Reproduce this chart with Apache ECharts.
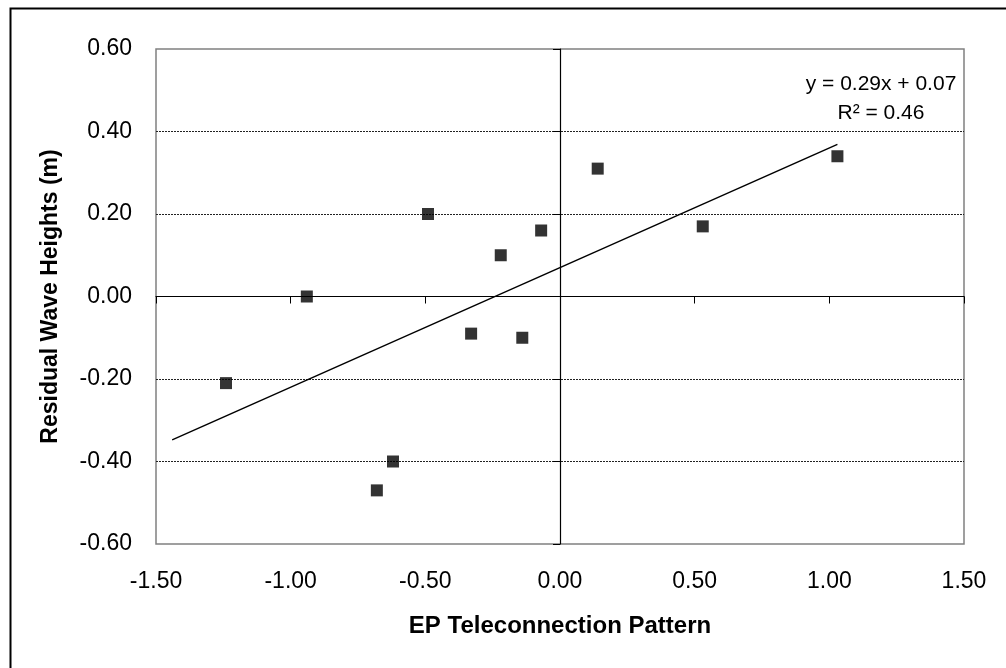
<!DOCTYPE html>
<html>
<head>
<meta charset="utf-8">
<title>EP Teleconnection Pattern vs Residual Wave Heights</title>
<script src="https://cdn.jsdelivr.net/npm/echarts@6/dist/echarts.min.js"></script>
<style>
  html, body { margin: 0; padding: 0; background: #fff; }
  #chart { width: 1006px; height: 668px; }
</style>
</head>
<body>
<div id="chart"></div>
<script>
// EP teleconnection index (x) and residual wave height in metres (y)
const epIndex = [-1.24, -0.94, -0.68, -0.62, -0.49, -0.33, -0.22, -0.14, -0.07, 0.14, 0.53, 1.03];
const residualHeight = [-0.21, 0.00, -0.47, -0.40, 0.20, -0.09, 0.10, -0.10, 0.16, 0.31, 0.17, 0.34];

// Linear trend as stated on the chart, drawn over its x extent
const trendSlope = 0.29;
const trendIntercept = 0.07;
const rSquared = 0.46;
const trendRange = [-1.44, 1.03];

// Axis scales
const xTicks = { min: -1.5, max: 1.5, interval: 0.5 };
const yTicks = { min: -0.6, max: 0.6, interval: 0.2 };

const FONT = "'Liberation Sans', Arial, sans-serif";

const points = epIndex.map((x, i) => [x, residualHeight[i]]);
const trendLine = trendRange.map(x => [x, trendSlope * x + trendIntercept]);
const fmt = v => v.toFixed(2);

const chart = echarts.init(document.getElementById('chart'), null, { renderer: 'canvas' });

chart.setOption({
  animation: false,
  backgroundColor: '#ffffff',
  textStyle: { fontFamily: FONT },
  grid: {
    left: 156, top: 49, right: 42, bottom: 124,
    show: true, borderColor: '#808080', borderWidth: 1.5,
    outerBoundsMode: 'none'
  },
  xAxis: [
    {
      // axis line crossing at y = 0, with ticks only
      type: 'value', ...xTicks,
      axisLine: { show: true, onZero: true, lineStyle: { color: '#000', width: 1.2 } },
      axisTick: { show: true, length: 7, lineStyle: { color: '#000', width: 1 } },
      axisLabel: { show: false },
      splitLine: { show: false }
    },
    {
      // tick labels and title at the bottom edge
      type: 'value', ...xTicks, position: 'bottom',
      axisLine: { show: false, onZero: false },
      axisTick: { show: false },
      axisLabel: { show: true, margin: 26, color: '#000', fontSize: 23, fontFamily: FONT, formatter: fmt },
      splitLine: { show: false },
      name: 'EP Teleconnection Pattern',
      nameLocation: 'middle', nameGap: 70,
      nameTextStyle: { color: '#000', fontSize: 24, fontWeight: 'bold', fontFamily: FONT }
    }
  ],
  yAxis: [
    {
      // axis line crossing at x = 0, with ticks and dotted gridlines
      type: 'value', ...yTicks,
      axisLine: { show: true, onZero: true, lineStyle: { color: '#000', width: 1.2 } },
      axisTick: { show: true, length: 7, lineStyle: { color: '#000', width: 1 } },
      axisLabel: { show: false },
      splitLine: {
        show: true, showMinLine: false, showMaxLine: false,
        lineStyle: { color: '#222', width: 1, type: [2, 1] }
      }
    },
    {
      // tick labels and title at the left edge
      type: 'value', ...yTicks, position: 'left',
      axisLine: { show: false, onZero: false },
      axisTick: { show: false },
      axisLabel: { show: true, margin: 24, color: '#000', fontSize: 23, fontFamily: FONT, formatter: fmt },
      splitLine: { show: false },
      name: 'Residual Wave Heights (m)',
      nameLocation: 'middle', nameGap: 94,
      nameTextStyle: { color: '#000', fontSize: 23, fontWeight: 'bold', fontFamily: FONT }
    }
  ],
  series: [
    {
      type: 'line',
      xAxisIndex: 0, yAxisIndex: 0,
      data: trendLine,
      symbol: 'none',
      lineStyle: { color: '#000', width: 1.5 },
      silent: true,
      z: 3
    },
    {
      type: 'scatter',
      xAxisIndex: 0, yAxisIndex: 0,
      data: points,
      symbol: 'rect',
      symbolSize: 12,
      itemStyle: { color: '#000' },
      z: 4
    }
  ],
  graphic: [
    {
      // outer chart frame
      type: 'rect', left: 8, top: 6, silent: true,
      shape: { width: 1100, height: 800 },
      style: { fill: 'none', stroke: '#000', lineWidth: 2 }
    },
    {
      // trendline equation
      type: 'text', x: 881, y: 70, silent: true,
      style: {
        text: 'y = ' + trendSlope.toFixed(2) + 'x + ' + trendIntercept.toFixed(2) + '\nR\u00B2 = ' + rSquared.toFixed(2),
        align: 'center', verticalAlign: 'top',
        fontSize: 21, lineHeight: 29, fontFamily: FONT, fill: '#000'
      }
    }
  ]
});
</script>
</body>
</html>
